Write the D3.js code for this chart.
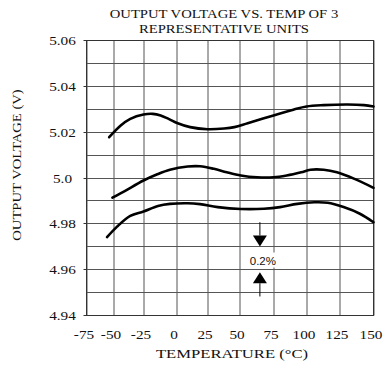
<!DOCTYPE html>
<html><head><meta charset="utf-8">
<script src="https://cdn.jsdelivr.net/npm/d3@7"></script>
<style>body{margin:0;background:#fff}svg{display:block}</style>
</head><body>
<script>
// ---- data ----
const tempTicks = [-75, -50, -25, 0, 25, 50, 75, 100, 125, 150];
const voltTicks = [4.94, 4.96, 4.98, 5.00, 5.02, 5.04, 5.06];
const voltTickLabels = ["4.94", "4.96", "4.98", "5.0", "5.02", "5.04", "5.06"];
const voltGrid = [4.94, 4.95, 4.96, 4.97, 4.98, 4.99, 5.00, 5.01, 5.02, 5.03, 5.04, 5.05, 5.06];

const unitA_T = [-54, -44, -36, -25, -18, -12, -6, 1, 11, 25, 38, 46, 56, 75, 90, 100, 113, 131, 143, 150];
const unitA_V = [5.0178, 5.0229, 5.0258, 5.0277, 5.0280, 5.0273, 5.0258, 5.0239, 5.0222, 5.0213, 5.0216, 5.0222, 5.0239, 5.0273, 5.0298, 5.0312, 5.0318, 5.0321, 5.0318, 5.0312];

const unitB_T = [-51, -41, -25, -15, -5, 9, 19, 30, 40, 51, 63, 75, 85, 96, 103, 113, 123, 136, 150];
const unitB_V = [4.9914, 4.9942, 4.9989, 5.0015, 5.0036, 5.0050, 5.0051, 5.0040, 5.0025, 5.0011, 5.0003, 5.0003, 5.0011, 5.0025, 5.0036, 5.0036, 5.0025, 4.9996, 4.9957];

const unitC_T = [-56, -47, -36, -25, -14, -5, 9, 19, 33, 51, 68, 80, 93, 106, 116, 128, 140, 150];
const unitC_V = [4.9742, 4.9788, 4.9835, 4.9854, 4.9878, 4.9887, 4.9890, 4.9886, 4.9873, 4.9865, 4.9866, 4.9873, 4.9887, 4.9894, 4.9892, 4.9873, 4.9844, 4.9807];

const annotTemp = 65;
const annotTop = 4.9807, annotDownTip = 4.9701, annotUpTip = 4.9589, annotBottom = 4.9483, annotText = 4.9640;
const annotLabel = "0.2%";

const titleLines = ["OUTPUT VOLTAGE VS. TEMP OF 3", "REPRESENTATIVE UNITS"];
const xTitle = "TEMPERATURE (\u00B0C)";
const yTitle = "OUTPUT VOLTAGE (V)";

// ---- layout ----
const W = 387, H = 370;
const gridX = [86, 113, 143, 176, 207, 239, 273, 306, 339, 373];
const labelShift = -3;
const plotTop = 40, plotBottom = 315;
const serif = "'Liberation Serif','Times New Roman',serif";
const stretchK = 1.22;
const gridColor = "#555";

const svg = d3.select("body").append("svg").attr("width", W).attr("height", H);
const g = svg.append("g").attr("transform", "translate(0.5,0.5)");

const x = d3.scaleLinear().domain(tempTicks).range(gridX);
const y = d3.scaleLinear().domain([4.94, 5.06]).range([plotBottom, plotTop]);

// stretch text horizontally (along its baseline) around a chosen anchor
function stretchAt(sel, k, anchor) {
  sel.each(function () {
    const t = d3.select(this);
    t.attr("text-anchor", "start");
    const x0 = +t.attr("x") || 0;
    const len = this.getComputedTextLength();
    const L = len * k;
    const shift = anchor === "middle" ? -L / 2 : anchor === "end" ? -L : 0;
    t.attr("x", x0 + shift).attr("textLength", L).attr("lengthAdjust", "spacingAndGlyphs");
    const bb = this.getBBox();
    const actual = anchor === "middle" ? bb.x + bb.width / 2 : anchor === "end" ? bb.x + bb.width : bb.x;
    const fix = x0 - actual;
    if (Math.abs(fix) > 0.5 && Math.abs(fix) < 60) t.attr("x", x0 + shift + fix);
  });
}

// vertical grid lines (via axis)
const vGrid = g.append("g").attr("transform", `translate(0,${plotBottom})`)
  .call(d3.axisBottom(x).tickValues(tempTicks).tickSize(-(plotBottom - plotTop)).tickFormat(""));
vGrid.select(".domain").remove();
vGrid.selectAll(".tick line").attr("stroke", gridColor).attr("stroke-width", 1);

// horizontal grid lines (via axis)
const hGrid = g.append("g").attr("transform", `translate(${x(-75)},0)`)
  .call(d3.axisLeft(y).tickValues(voltGrid).tickSize(-(x(150) - x(-75))).tickFormat(""));
hGrid.select(".domain").remove();
hGrid.selectAll(".tick").attr("transform", d => `translate(0,${Math.round(y(d))})`);
hGrid.selectAll(".tick line").attr("stroke", gridColor).attr("stroke-width", 1);

// frame
g.append("rect").attr("x", x(-75)).attr("y", plotTop)
  .attr("width", x(150) - x(-75)).attr("height", plotBottom - plotTop)
  .attr("fill", "none").attr("stroke", "#333").attr("stroke-width", 1);

// y axis labels
const yAxis = g.append("g").attr("transform", `translate(${x(-75)},0)`)
  .call(d3.axisLeft(y).tickValues(voltTicks).tickFormat((d, i) => voltTickLabels[i]).tickSize(3).tickSizeOuter(0));
yAxis.select(".domain").remove();
yAxis.selectAll(".tick").attr("transform", d => `translate(0,${Math.round(y(d))})`);
yAxis.selectAll(".tick line").attr("stroke", "#333");
yAxis.selectAll(".tick text")
  .attr("x", 62 - x(-75)).attr("dy", "0.35em")
  .attr("font-family", serif).attr("font-size", 12.5).attr("fill", "#111")
  .call(stretchAt, stretchK, "middle");

// x axis labels
const xAxis = g.append("g").attr("transform", `translate(0,${plotBottom})`)
  .call(d3.axisBottom(x).tickValues(tempTicks).tickFormat(d => String(d)).tickSize(0).tickPadding(0));
xAxis.select(".domain").remove();
xAxis.selectAll(".tick text")
  .attr("x", labelShift).attr("y", 23).attr("dy", 0)
  .attr("font-family", serif).attr("font-size", 12.5).attr("fill", "#111")
  .call(stretchAt, stretchK, "middle");

// curves
const line = d3.line().x(d => x(d[0])).y(d => y(d[1])).curve(d3.curveCatmullRom.alpha(0.5));
[[unitA_T, unitA_V], [unitB_T, unitB_V], [unitC_T, unitC_V]].forEach(([T, V]) => {
  g.append("path").datum(T.map((t, i) => [t, V[i]]))
    .attr("d", line).attr("fill", "none").attr("stroke", "#000")
    .attr("stroke-width", 2.6).attr("stroke-linecap", "round").attr("stroke-linejoin", "round");
});

// annotation
const ax = x(annotTemp);
const tw = 7, th = 11;
g.append("rect").attr("x", ax - 16).attr("y", y(annotText) - 8).attr("width", 34).attr("height", 15).attr("fill", "#fff");
g.append("line").attr("x1", ax).attr("x2", ax).attr("y1", y(annotTop)).attr("y2", y(annotDownTip) - th)
  .attr("stroke", "#000").attr("stroke-width", 1);
g.append("path").attr("d", `M${ax - tw},${y(annotDownTip) - th}L${ax + tw},${y(annotDownTip) - th}L${ax},${y(annotDownTip)}Z`).attr("fill", "#000");
g.append("path").attr("d", `M${ax - tw},${y(annotUpTip) + th}L${ax + tw},${y(annotUpTip) + th}L${ax},${y(annotUpTip)}Z`).attr("fill", "#000");
g.append("line").attr("x1", ax).attr("x2", ax).attr("y1", y(annotUpTip) + th).attr("y2", y(annotBottom))
  .attr("stroke", "#000").attr("stroke-width", 1);
g.append("text").attr("x", ax + 3).attr("y", y(annotText)).attr("dy", "0.35em").attr("text-anchor", "middle")
  .attr("font-family", "'Liberation Sans',Arial,sans-serif").attr("font-size", 11.5).attr("fill", "#111")
  .text(annotLabel);

// titles
svg.selectAll("text.title").data(titleLines).join("text").attr("class", "title")
  .attr("x", 224).attr("y", (d, i) => 17.5 + i * 15)
  .attr("font-family", serif).attr("font-size", 12).attr("fill", "#111")
  .text(d => d).call(stretchAt, stretchK, "middle");

svg.append("text").attr("x", 232).attr("y", 358)
  .attr("font-family", serif).attr("font-size", 12.5).attr("fill", "#111")
  .text(xTitle).call(stretchAt, 1.33, "middle");

svg.append("g").attr("transform", "translate(21,165) rotate(-90)")
  .append("text").attr("x", 0).attr("y", 0)
  .attr("font-family", serif).attr("font-size", 12).attr("fill", "#111")
  .text(yTitle).call(stretchAt, stretchK, "middle");
</script>
</body></html>
